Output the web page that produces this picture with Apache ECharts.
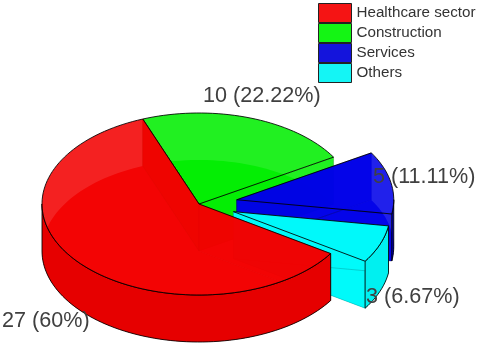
<!DOCTYPE html>
<html><head><meta charset="utf-8">
<style>html,body{margin:0;padding:0;background:#fff}#c{width:480px;height:345px}</style>
<script src="https://cdn.jsdelivr.net/npm/echarts@6/dist/echarts.min.js"></script>
</head><body><div id="c"></div>
<script>
const categories = ['Healthcare sector', 'Construction', 'Services', 'Others'];
const counts = [27, 10, 5, 3];
const percentLabels = ['60%', '22.22%', '11.11%', '6.67%'];
const exploded = [0, 0, 0.245, 0.235];
const labelAnchors = [[2, 321], [203, 96], [373, 177], [366, 297]];
const swatchColors = ['#f51414', '#14f514', '#1414dc', '#14f5f5'];
const layerColors = ['rgba(242,0,0,0.87)', 'rgba(0,238,0,0.87)', 'rgba(0,0,232,0.87)', 'rgba(0,250,250,0.95)'];
const wallColors = ['#e60000', '#00e000', '#0000b0', '#00f0f0'];
const edgeColors = ['rgba(130,0,0,0.3)', 'rgba(0,110,0,0.3)', 'rgba(0,0,90,0.4)', 'rgba(0,110,110,0.3)'];
const drawOrder = [1, 2, 3, 0];

const CX = 199, CY = 204, RX = 157, RY = 91, DEPTH = 47, START = -33;
const total = counts.reduce((a, b) => a + b, 0);
const rad = d => d * Math.PI / 180;

function angles(i) {
  let a = START;
  for (let k = 0; k < i; k++) a -= counts[k] / total * 360;
  // clockwise sweep: from a going down by the slice's angle, normalised upward
  return [a - counts[i] / total * 360 + 360 * 2, a + 360 * 2];
}
function pt(o, deg, dz) {
  return [o[0] + RX * Math.cos(rad(deg)), o[1] - RY * Math.sin(rad(deg)) + (dz || 0)];
}
function arc(o, a0, a1, dz) {
  const pts = [], n = Math.max(2, Math.ceil(Math.abs(a1 - a0) / 2));
  for (let j = 0; j <= n; j++) pts.push(pt(o, a0 + (a1 - a0) * j / n, dz));
  return pts;
}
function poly(points, fill, stroke) {
  return { type: 'polygon', shape: { points }, style: { fill, stroke: stroke || 'none', lineWidth: stroke ? 1 : 0 }, silent: true };
}
function sliceRender(i) {
  return function (params, api) {
    const value = api.value(0);
    const [a0, a1] = angles(i);
    const mid = (a0 + a1) / 2;
    const o = [CX + exploded[i] * RX * Math.cos(rad(mid)), CY - exploded[i] * RY * Math.sin(rad(mid))];
    const below = [o[0], o[1] + DEPTH];
    const fill = layerColors[i], faint = edgeColors[i], black = 'rgba(0,0,0,0.85)';
    const ch = [];
    ch.push(poly([below].concat(arc(o, a0, a1, DEPTH)), fill));
    [a0, a1].forEach(a => ch.push(poly([o, pt(o, a), pt(o, a, DEPTH), below], fill, faint)));
    // front-facing part of the rim
    const frontRanges = [[180, 360], [540, 720], [900, 1080]];
    frontRanges.forEach(([f0, f1]) => {
      const s = Math.max(a0, f0), e = Math.min(a1, f1);
      if (e > s) ch.push(poly(arc(o, s, e).concat(arc(o, e, s, DEPTH)), wallColors[i], black));
    });
    ch.push(poly([o].concat(arc(o, a0, a1)), fill, black));
    ch.push({
      type: 'text', silent: true,
      style: { x: labelAnchors[i][0], y: labelAnchors[i][1], text: value + ' (' + percentLabels[i] + ')',
        fill: '#404040', font: '21.6px "Liberation Sans", Arial, sans-serif', textAlign: 'left', textVerticalAlign: 'middle' }
    });
    return { type: 'group', children: ch };
  };
}
const chart = echarts.init(document.getElementById('c'), null, { renderer: 'canvas' });
chart.setOption({
  backgroundColor: '#fff',
  animation: false,
  legend: {
    data: categories, orient: 'vertical', left: 318, top: 3, padding: 0,
    itemWidth: 33, itemHeight: 19, itemGap: 0, itemTextGap: 6, icon: 'rect', selectedMode: false,
    itemStyle: { borderColor: '#222', borderWidth: 1 },
    textStyle: { fontFamily: '"Liberation Sans", Arial, sans-serif', fontSize: 15.2, color: '#333', lineHeight: 19, height: 19, verticalAlign: 'middle' }
  },
  series: drawOrder.map(i => ({
    type: 'custom', name: categories[i], coordinateSystem: 'none',
    itemStyle: { color: swatchColors[i] },
    data: [[counts[i]]],
    renderItem: sliceRender(i)
  }))
});
</script></body></html>
